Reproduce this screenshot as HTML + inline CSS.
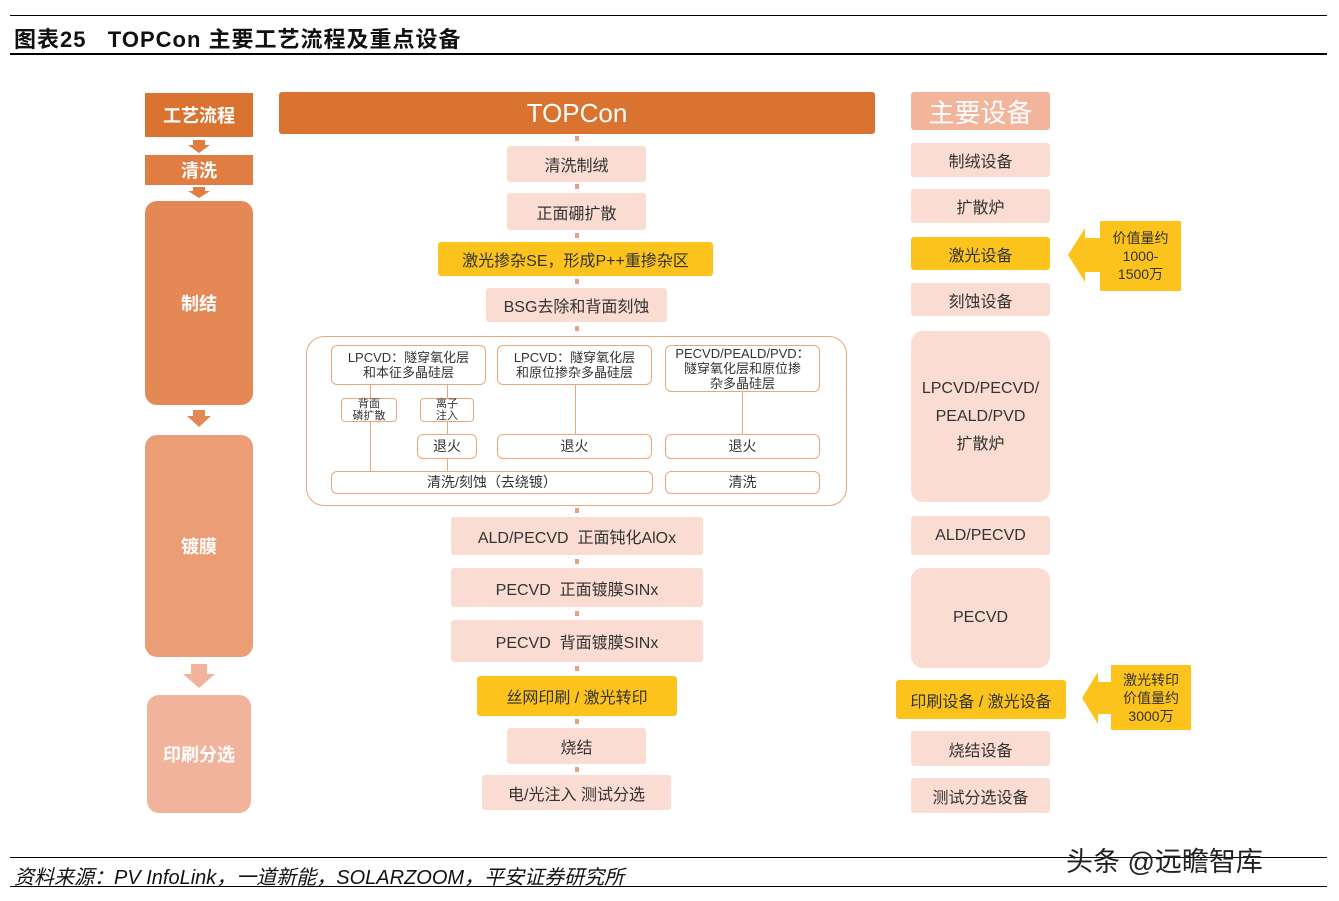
<!DOCTYPE html>
<html><head><meta charset="utf-8"><style>
body{margin:0;width:1339px;height:901px;background:#fff;position:relative;overflow:hidden;font-family:"Liberation Sans","Noto Sans CJK SC",sans-serif;}
.a{position:absolute;box-sizing:border-box;display:flex;align-items:center;justify-content:center;text-align:center;}
.p{background:#FADCD2;color:#333;font-size:16px;border-radius:3px;}
.y{background:#FBC31C;color:#333;font-size:16px;border-radius:3px;}
.o{background:#fff;border:1.5px solid #EDA57A;border-radius:6px;color:#333;font-size:13px;line-height:15px;}
.L{color:#fff;font-weight:bold;font-size:18px;}
.v{position:absolute;width:1px;background:#EDA57A;}
.d{position:absolute;width:4px;height:5px;background:#E9A080;}
</style></head><body>
<div style="position:absolute;left:10px;top:15px;width:1317px;height:1px;background:#000"></div>
<div style="position:absolute;left:14px;top:22px;font-size:22px;font-weight:bold;color:#111;letter-spacing:1px">图表25&nbsp;&nbsp;&nbsp;TOPCon 主要工艺流程及重点设备</div>
<div style="position:absolute;left:10px;top:53px;width:1317px;height:2px;background:#000"></div>

<div class="a L" style="left:145px;top:93px;width:108px;height:44px;background:#D9732F">工艺流程</div>
<div class="a L" style="left:145px;top:155px;width:108px;height:30px;background:#E07D42">清洗</div>
<div class="a L" style="left:145px;top:201px;width:108px;height:204px;background:#E48956;border-radius:12px">制结</div>
<div class="a L" style="left:145px;top:435px;width:108px;height:222px;background:#EB9D76;border-radius:12px">镀膜</div>
<div class="a L" style="left:147px;top:695px;width:104px;height:118px;background:#F1B39B;border-radius:12px">印刷分选</div>
<svg style="position:absolute;left:0;top:0" width="1339" height="901">
<g fill="#E07D42"><polygon points="193,140 205,140 205,145 210,145 199,153 188,145 193,145"/>
<polygon points="193,187 205,187 205,191 210,191 199,198 188,191 193,191"/></g>
<polygon fill="#E48956" points="193,410 205,410 205,416 211,416 199,427 187,416 193,416"/>
<polygon fill="#F1B39B" points="191,664 207,664 207,674 215,674 199,688 183,674 191,674"/>
<polygon fill="#FBC31C" points="1100,238 1085,238 1085,228 1068,255 1085,282 1085,272 1100,272"/>
<polygon fill="#FBC31C" points="1112,682 1098,682 1098,672 1082,698 1098,724 1098,714 1112,714"/>
</svg>

<div class="a" style="left:279px;top:92px;width:596px;height:42px;background:#D9732F;color:#fff;font-size:26px;border-radius:3px">TOPCon</div>
<div class="d" style="left:575px;top:136px"></div>
<div class="a p" style="left:507px;top:146px;width:139px;height:36px">清洗制绒</div>
<div class="d" style="left:575px;top:184px"></div>
<div class="a p" style="left:507px;top:193px;width:139px;height:37px">正面硼扩散</div>
<div class="d" style="left:575px;top:233px"></div>
<div class="a y" style="left:438px;top:242px;width:275px;height:34px">激光掺杂SE，形成P++重掺杂区</div>
<div class="d" style="left:575px;top:279px"></div>
<div class="a p" style="left:486px;top:288px;width:181px;height:34px">BSG去除和背面刻蚀</div>
<div class="d" style="left:575px;top:326px"></div>
<div style="position:absolute;left:306px;top:336px;width:541px;height:170px;box-sizing:border-box;border:1.5px solid #EDA57A;border-radius:18px"></div>
<div class="a o" style="left:331px;top:345px;width:155px;height:40px">LPCVD：隧穿氧化层<br>和本征多晶硅层</div>
<div class="a o" style="left:497px;top:345px;width:155px;height:40px">LPCVD：隧穿氧化层<br>和原位掺杂多晶硅层</div>
<div class="a o" style="left:665px;top:345px;width:155px;height:47px">PECVD/PEALD/PVD：<br>隧穿氧化层和原位掺<br>杂多晶硅层</div>
<div class="a o" style="left:341px;top:398px;width:56px;height:24px;font-size:11px;line-height:12px;border-radius:4px">背面<br>磷扩散</div>
<div class="a o" style="left:420px;top:398px;width:54px;height:24px;font-size:11px;line-height:12px;border-radius:4px">离子<br>注入</div>
<div class="a o" style="left:417px;top:434px;width:60px;height:25px;font-size:14px">退火</div>
<div class="a o" style="left:497px;top:434px;width:155px;height:25px;font-size:14px">退火</div>
<div class="a o" style="left:665px;top:434px;width:155px;height:25px;font-size:14px">退火</div>
<div class="a o" style="left:331px;top:471px;width:322px;height:23px;font-size:14px">清洗/刻蚀（去绕镀）</div>
<div class="a o" style="left:665px;top:471px;width:155px;height:23px;font-size:14px">清洗</div>
<div class="v" style="left:370px;top:385px;height:13px"></div>
<div class="v" style="left:370px;top:422px;height:49px"></div>
<div class="v" style="left:447px;top:385px;height:13px"></div>
<div class="v" style="left:447px;top:422px;height:12px"></div>
<div class="v" style="left:447px;top:459px;height:12px"></div>
<div class="v" style="left:575px;top:385px;height:49px"></div>
<div class="v" style="left:742px;top:392px;height:42px"></div>
<div class="d" style="left:575px;top:508px"></div>
<div class="a p" style="left:451px;top:517px;width:252px;height:38px">ALD/PECVD&nbsp; 正面钝化AlOx</div>
<div class="d" style="left:575px;top:559px"></div>
<div class="a p" style="left:451px;top:568px;width:252px;height:39px">PECVD&nbsp; 正面镀膜SINx</div>
<div class="d" style="left:575px;top:611px"></div>
<div class="a p" style="left:451px;top:620px;width:252px;height:42px">PECVD&nbsp; 背面镀膜SINx</div>
<div class="d" style="left:575px;top:666px"></div>
<div class="a y" style="left:477px;top:676px;width:200px;height:40px">丝网印刷 / 激光转印</div>
<div class="d" style="left:575px;top:719px"></div>
<div class="a p" style="left:507px;top:728px;width:139px;height:36px">烧结</div>
<div class="d" style="left:575px;top:767px"></div>
<div class="a p" style="left:482px;top:775px;width:189px;height:35px">电/光注入 测试分选</div>

<div class="a" style="left:911px;top:92px;width:139px;height:38px;background:#F2B49B;color:#fff;font-size:26px;border-radius:3px">主要设备</div>
<div class="a p" style="left:911px;top:143px;width:139px;height:34px">制绒设备</div>
<div class="a p" style="left:911px;top:189px;width:139px;height:34px">扩散炉</div>
<div class="a y" style="left:911px;top:237px;width:139px;height:33px">激光设备</div>
<div class="a p" style="left:911px;top:283px;width:139px;height:33px">刻蚀设备</div>
<div class="a p" style="left:911px;top:331px;width:139px;height:171px;border-radius:12px;line-height:28px">LPCVD/PECVD/<br>PEALD/PVD<br>扩散炉</div>
<div class="a p" style="left:911px;top:516px;width:139px;height:39px">ALD/PECVD</div>
<div class="a p" style="left:911px;top:568px;width:139px;height:100px;border-radius:12px">PECVD</div>
<div class="a y" style="left:896px;top:680px;width:170px;height:39px">印刷设备 / 激光设备</div>
<div class="a p" style="left:911px;top:731px;width:139px;height:35px">烧结设备</div>
<div class="a p" style="left:911px;top:778px;width:139px;height:35px">测试分选设备</div>
<div class="a y" style="left:1100px;top:221px;width:81px;height:70px;font-size:14px;line-height:18px;border-radius:0">价值量约<br>1000-<br>1500万</div>
<div class="a y" style="left:1111px;top:665px;width:80px;height:65px;font-size:14px;line-height:18px;border-radius:0">激光转印<br>价值量约<br>3000万</div>

<div style="position:absolute;left:10px;top:857px;width:1317px;height:1px;background:#000"></div>
<div style="position:absolute;left:14px;top:861px;font-size:20px;font-style:italic;color:#111">资料来源：PV InfoLink，一道新能，SOLARZOOM，平安证券研究所</div>
<div style="position:absolute;left:10px;top:886px;width:1317px;height:1px;background:#000"></div>
<div style="position:absolute;left:1066px;top:840px;font-size:27px;color:#222">头条 @远瞻智库</div>
</body></html>
